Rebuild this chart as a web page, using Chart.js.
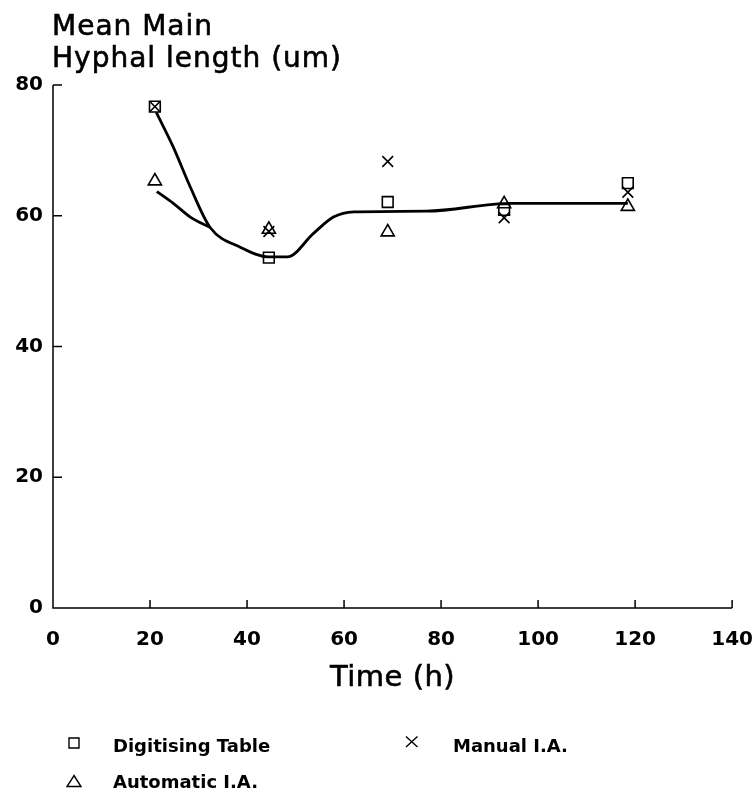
<!DOCTYPE html>
<html>
<head>
<meta charset="utf-8">
<title>Mean main hyphal length</title>
<script src="https://cdn.jsdelivr.net/npm/chart.js@4.4.1/dist/chart.umd.min.js"></script>
<style>
  html, body { margin: 0; padding: 0; background: #fff; }
  #wrap { position: relative; width: 754px; height: 798px; }
</style>
</head>
<body>
<div id="wrap"><canvas id="hyphaChart"></canvas></div>
<script>
// Sampling times (h) and mean main hyphal length (um) per method
const times = [21, 44.5, 69, 93, 118.5];
const digitising = [76.7, 53.6, 62.1, 60.9, 65.0];
const manual = [76.7, 57.6, 68.3, 59.7, 63.6];
const automatic = [65.3, 57.9, 57.5, 61.8, 61.4];

// Hand-fitted curves (knots along the drawn fit)
const fitTimes = [21.3, 24.8, 28.3, 32.4, 38.6, 44.4, 48.3, 53.7, 57.8, 62, 77, 94.4, 118.5];
const fitLength = [75.8, 70.5, 64.4, 58.2, 55.2, 53.7, 53.7, 57.3, 59.8, 60.6, 60.7, 61.9, 61.9];
const fitAutoTimes = [21.4, 24.8, 28.3, 32.4];
const fitAutoLength = [63.7, 61.9, 59.8, 58.2];

const xTicks = [0, 20, 40, 60, 80, 100, 120, 140];
const yTicks = [0, 20, 40, 60, 80];

const toPoints = (xs, ys) => xs.map((x, i) => ({ x: x, y: ys[i] }));

const FONT = '"DejaVu Sans", "Liberation Sans", Arial, sans-serif';

// axis lines with inward tick marks
const paperAxes = {
  id: 'paperAxes',
  beforeDatasetsDraw(chart) {
    const { ctx, chartArea: a, scales: { x, y } } = chart;
    ctx.save();
    ctx.strokeStyle = '#000';
    ctx.lineWidth = 1.5;
    ctx.beginPath();
    ctx.moveTo(a.left, a.top);
    ctx.lineTo(a.left, a.bottom);
    ctx.lineTo(a.right, a.bottom);
    yTicks.forEach(v => {
      const py = y.getPixelForValue(v);
      ctx.moveTo(a.left, py);
      ctx.lineTo(a.left + 9, py);
    });
    xTicks.forEach(v => {
      const px = x.getPixelForValue(v);
      ctx.moveTo(px, a.bottom);
      ctx.lineTo(px, a.bottom - 8);
    });
    ctx.stroke();
    ctx.restore();
  }
};

// heavier text: fill plus a thin outline
function boldish(ctx, text, x, y) {
  ctx.fillText(text, x, y);
  ctx.strokeText(text, x, y);
}

// y title at top left, x title and the key below the plot
const paperText = {
  id: 'paperText',
  afterDraw(chart) {
    const { ctx, chartArea: a } = chart;
    ctx.save();
    ctx.fillStyle = '#000';
    ctx.strokeStyle = '#000';
    ctx.lineWidth = 0.6;
    ctx.textBaseline = 'alphabetic';
    ctx.textAlign = 'left';
    ctx.font = '28px ' + FONT;
    if ('letterSpacing' in ctx) ctx.letterSpacing = '1px';
    boldish(ctx, 'Mean Main', 52, 35);
    boldish(ctx, 'Hyphal length (um)', 52, 67);
    if ('letterSpacing' in ctx) ctx.letterSpacing = '0.5px';

    ctx.textAlign = 'center';
    ctx.font = '29px ' + FONT;
    boldish(ctx, 'Time (h)', (a.left + a.right) / 2, 686);
    if ('letterSpacing' in ctx) ctx.letterSpacing = '0px';

    ctx.textAlign = 'left';
    ctx.font = 'bold 18px ' + FONT;
    ctx.fillText('Digitising Table', 113, 752);
    ctx.fillText('Manual I.A.', 453, 752);
    ctx.fillText('Automatic I.A.', 113, 788);

    ctx.lineWidth = 1.4;
    ctx.beginPath();
    ctx.rect(69, 738, 10, 10);
    ctx.moveTo(74, 775.5);
    ctx.lineTo(81, 786.5);
    ctx.lineTo(67, 786.5);
    ctx.closePath();
    ctx.moveTo(406, 736.5);
    ctx.lineTo(417.5, 747);
    ctx.moveTo(417.5, 736.5);
    ctx.lineTo(406, 747);
    ctx.stroke();
    ctx.restore();
  }
};

const markerBase = {
  type: 'scatter',
  showLine: false,
  pointRadius: 7.6,
  pointHoverRadius: 7.6,
  pointBorderWidth: 1.6,
  borderColor: '#000',
  backgroundColor: 'rgba(0,0,0,0)'
};

const curveBase = {
  type: 'line',
  showLine: true,
  pointRadius: 0,
  borderWidth: 2.8,
  borderColor: '#000',
  fill: false,
  cubicInterpolationMode: 'monotone'
};

const ctx = document.getElementById('hyphaChart').getContext('2d');
new Chart(ctx, {
  type: 'scatter',
  data: {
    datasets: [
      Object.assign({}, curveBase, { label: 'fit', data: toPoints(fitTimes, fitLength) }),
      Object.assign({}, curveBase, { label: 'fit auto', data: toPoints(fitAutoTimes, fitAutoLength) }),
      Object.assign({}, markerBase, { label: 'Digitising Table', pointStyle: 'rect', data: toPoints(times, digitising) }),
      Object.assign({}, markerBase, { label: 'Manual I.A.', pointStyle: 'crossRot', data: toPoints(times, manual) }),
      Object.assign({}, markerBase, { label: 'Automatic I.A.', pointStyle: 'triangle', data: toPoints(times, automatic) })
    ]
  },
  options: {
    responsive: true,
    maintainAspectRatio: false,
    animation: false,
    layout: { padding: { top: 85, right: 5, bottom: 105, left: 0 } },
    plugins: {
      legend: { display: false },
      tooltip: { enabled: false }
    },
    scales: {
      x: {
        type: 'linear',
        min: 0,
        max: 140,
        afterBuildTicks: s => { s.ticks = xTicks.map(v => ({ value: v })); },
        afterFit: s => { s.height = 85; },
        // hidden tick marks, kept only to push the labels down
        grid: { display: false, drawTicks: true, tickLength: 19 },
        border: { display: false },
        ticks: { padding: 1, maxRotation: 0, color: '#000', font: { family: FONT, size: 20, weight: 'bold' } }
      },
      y: {
        type: 'linear',
        min: 0,
        max: 80,
        afterBuildTicks: s => { s.ticks = yTicks.map(v => ({ value: v })); },
        afterFit: s => { s.width = 53; },
        grid: { display: false, drawTicks: false },
        border: { display: false },
        ticks: { padding: 10, color: '#000', font: { family: FONT, size: 20, weight: 'bold' } }
      }
    }
  },
  plugins: [paperAxes, paperText]
});
</script>
</body>
</html>
